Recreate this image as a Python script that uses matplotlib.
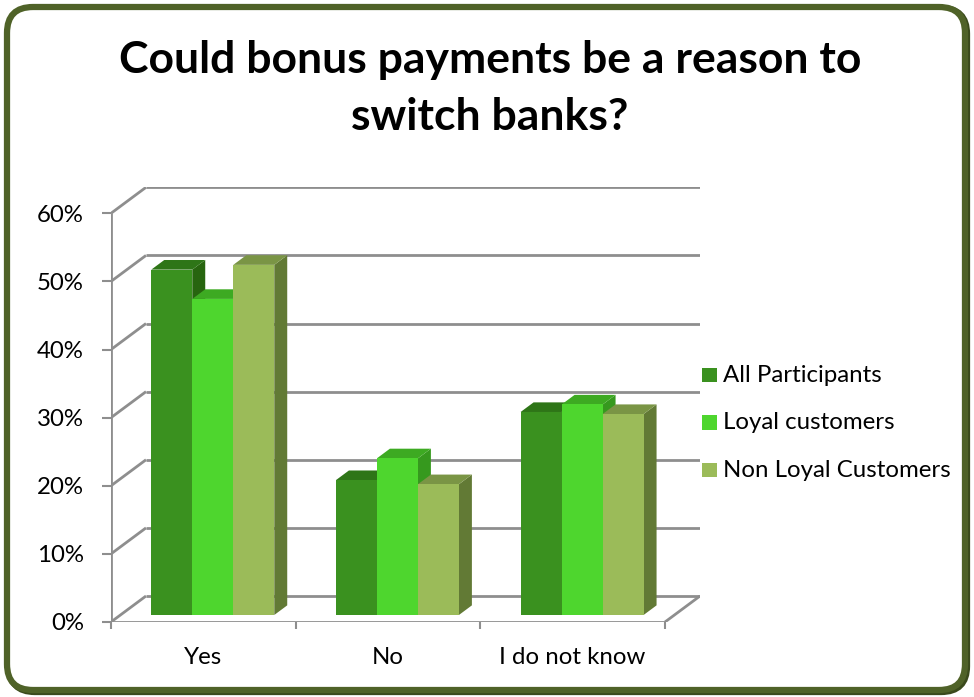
import matplotlib
matplotlib.use("Agg")
import matplotlib.pyplot as plt
from matplotlib.patches import Rectangle, Polygon, FancyBboxPatch
from matplotlib.ticker import FixedLocator, NullFormatter, FixedFormatter

plt.rcParams["font.family"] = ["Lato", "DejaVu Sans"]

# ---- data -------------------------------------------------------------
title_lines = ["Could bonus payments be a reason to", "switch banks?"]
categories = ["Yes", "No", "I do not know"]
series_names = ["All Participants", "Loyal customers", "Non Loyal Customers"]
all_participants = [50.7, 19.8, 29.8]
loyal_customers = [46.4, 23.0, 30.9]
non_loyal_customers = [51.4, 19.2, 29.5]
y_ticks = [0, 10, 20, 30, 40, 50, 60]
y_tick_labels = ["0%", "10%", "20%", "30%", "40%", "50%", "60%"]

# ---- styling ----------------------------------------------------------
front_colors = ["#3A911F", "#4ED62E", "#9BBB59"]
top_colors = ["#2E7517", "#3DAA22", "#7A9545"]
side_colors = ["#27650F", "#36991E", "#627A35"]
grid_color = "#8E8E8E"
border_color = "#4F6228"
label_size = 17.3

W, H, DPI = 974, 697, 100
fig = plt.figure(figsize=(W / DPI, H / DPI), dpi=DPI)
fig.patch.set_facecolor("white")

# rounded frame around the whole chart
shadow = FancyBboxPatch((0.09, 0.05), 9.58, 6.84,
                        boxstyle="round,pad=0,rounding_size=0.26",
                        transform=fig.dpi_scale_trans, facecolor="none",
                        edgecolor="#3A4A1C", linewidth=4.5, zorder=-2)
frame = FancyBboxPatch((0.07, 0.07), 9.58, 6.83,
                       boxstyle="round,pad=0,rounding_size=0.26",
                       transform=fig.dpi_scale_trans, facecolor="white",
                       edgecolor=border_color, linewidth=4.5, zorder=-1)
fig.add_artist(shadow)
fig.add_artist(frame)

# ---- oblique "3-D" plot area -------------------------------------------
n_cat = len(categories)
plot_left, plot_bottom = 111, 622          # front-left corner (px)
cat_px = 554 / n_cat                        # pixels per category
pct_px = 408.7 / 60                         # pixels per percent
depth_px = (35, 26)                         # wall depth offset (px)

DX = depth_px[0] / cat_px                   # depth in category units
DY = depth_px[1] / pct_px                   # depth in percent units
ymax = y_ticks[-1]

ax_w = (n_cat + DX) * cat_px
ax_h = (ymax + DY) * pct_px
ax = fig.add_axes([plot_left / W, (H - plot_bottom) / H, ax_w / W, ax_h / H])
ax.set_xlim(-0.5, n_cat - 0.5 + DX)
ax.set_ylim(0, ymax + DY)
ax.set_facecolor("none")
for s in ax.spines.values():
    s.set_visible(False)

line_kw = dict(color=grid_color, lw=2.0, solid_capstyle="butt", zorder=1)
x_lo, x_hi = -0.5, n_cat - 0.5
for v in y_ticks:
    # back wall gridline and side wall diagonal
    ax.plot([x_lo + DX, x_hi + DX], [v + DY, v + DY], **line_kw)
    ax.plot([x_lo, x_lo + DX], [v, v + DY], **line_kw)
# floor edges and vertical axis
ax.plot([x_lo, x_hi], [0, 0], **line_kw)
ax.plot([x_hi, x_hi + DX], [0, DY], **line_kw)
ax.plot([x_lo, x_lo], [0, ymax], **line_kw)

# ---- bars --------------------------------------------------------------
values = [all_participants, loyal_customers, non_loyal_customers]
bar_w = 0.222
f0, f1 = 0.27, 0.64                          # bar front / back depth
for i in range(n_cat):
    for j, series in enumerate(values):
        v = series[i]
        x0 = i - 1.5 * bar_w + j * bar_w
        x1 = x0 + bar_w
        z = 2 + i * 3 + j * 0.1
        side = Polygon([(x1 + f0 * DX, f0 * DY), (x1 + f1 * DX, f1 * DY),
                        (x1 + f1 * DX, v + f1 * DY), (x1 + f0 * DX, v + f0 * DY)],
                       closed=True, facecolor=side_colors[j], edgecolor="none",
                       zorder=z)
        top = Polygon([(x0 + f0 * DX, v + f0 * DY), (x1 + f0 * DX, v + f0 * DY),
                       (x1 + f1 * DX, v + f1 * DY), (x0 + f1 * DX, v + f1 * DY)],
                      closed=True, facecolor=top_colors[j], edgecolor="none",
                      zorder=z + 0.01)
        front = Rectangle((x0 + f0 * DX, f0 * DY), bar_w, v,
                          facecolor=front_colors[j], edgecolor="none",
                          zorder=z + 0.02)
        for p in (side, top, front):
            ax.add_patch(p)

# ---- ticks ---------------------------------------------------------------
ax.yaxis.set_major_locator(FixedLocator(y_ticks))
ax.yaxis.set_major_formatter(FixedFormatter(y_tick_labels))
ax.tick_params(axis="y", which="major", length=6.5, width=1.5,
               color=grid_color, pad=13, labelsize=label_size,
               labelcolor="black")

ax.xaxis.set_major_locator(FixedLocator([x_lo + k for k in range(n_cat + 1)]))
ax.xaxis.set_major_formatter(NullFormatter())
ax.xaxis.set_minor_locator(FixedLocator(list(range(n_cat))))
ax.xaxis.set_minor_formatter(FixedFormatter(categories))
ax.tick_params(axis="x", which="major", length=5, width=1.5, color=grid_color)
ax.tick_params(axis="x", which="minor", length=0, pad=18,
               labelsize=label_size, labelcolor="black")

# ---- title -------------------------------------------------------------
fig.text(490 / W, 1 - 73.3 / H, title_lines[0], ha="center", va="baseline",
         fontsize=32, fontweight="bold")
fig.text(490 / W, 1 - 130 / H, title_lines[1], ha="center", va="baseline",
         fontsize=32, fontweight="bold")

# ---- legend ------------------------------------------------------------
for k, name in enumerate(series_names):
    y_base = 381.7 + 47.5 * k
    fig.patches.append(Rectangle((702 / W, 1 - (y_base + 0.3) / H),
                                 14.5 / W, 14.5 / H,
                                 transform=fig.transFigure,
                                 facecolor=front_colors[k], edgecolor="none"))
    fig.text(723 / W, 1 - y_base / H, name, ha="left", va="baseline",
             fontsize=label_size)

fig.savefig("out.png", dpi=DPI)
